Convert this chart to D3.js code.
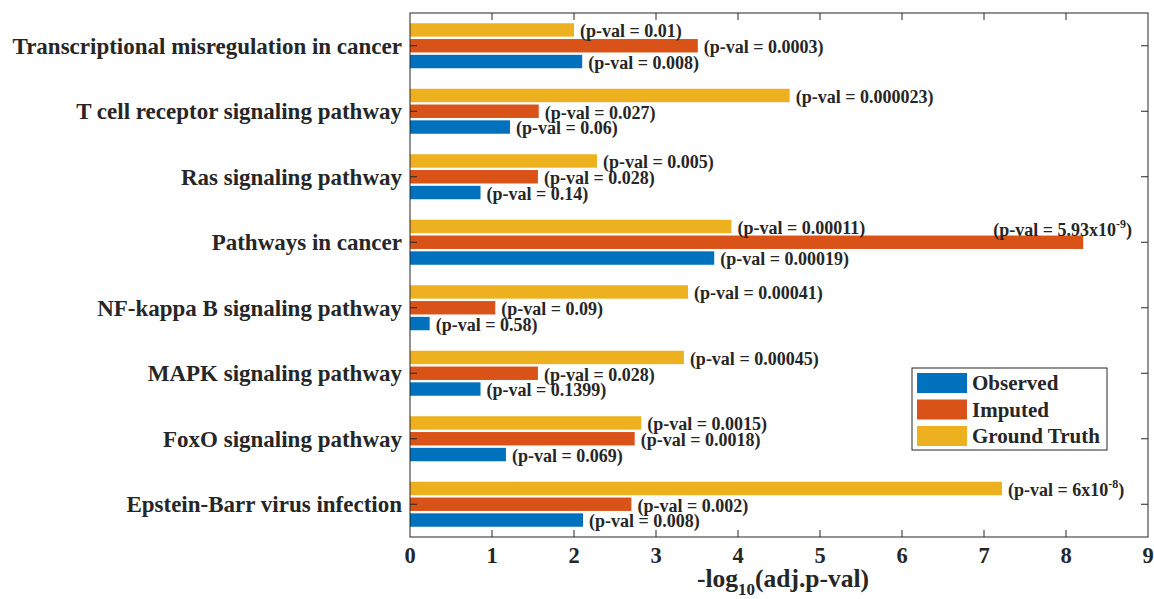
<!DOCTYPE html>
<html>
<head>
  <script src="https://cdn.jsdelivr.net/npm/d3@7"></script>
  <style>
    body { margin: 0; background: #fff; }
    text { font-family: "Liberation Serif", "Times New Roman", serif; font-weight: bold; fill: #262626; }
  </style>
</head>
<body>
  <svg width="1154" height="599" id="chart"></svg>
  <script>
    // pathways, top to bottom
    const categories = [
      'Transcriptional misregulation in cancer',
      'T cell receptor signaling pathway',
      'Ras signaling pathway',
      'Pathways in cancer',
      'NF-kappa B signaling pathway',
      'MAPK signaling pathway',
      'FoxO signaling pathway',
      'Epstein-Barr virus infection'
    ];
    const seriesNames = ['Ground Truth', 'Imputed', 'Observed'];
    const groundTruth = [2.0, 4.63, 2.28, 3.92, 3.39, 3.34, 2.82, 7.22];
    const imputed = [3.51, 1.57, 1.56, 8.21, 1.04, 1.56, 2.74, 2.70];
    const observed = [2.10, 1.22, 0.86, 3.71, 0.24, 0.86, 1.17, 2.11];
    const pGround = ['0.01', '0.000023', '0.005', '0.00011', '0.00041', '0.00045', '0.0015', '6x10^-8'];
    const pImputed = ['0.0003', '0.027', '0.028', '5.93x10^-9', '0.09', '0.028', '0.0018', '0.002'];
    const pObserved = ['0.008', '0.06', '0.14', '0.00019', '0.58', '0.1399', '0.069', '0.008'];
    const xTicks = [0, 1, 2, 3, 4, 5, 6, 7, 8, 9];
    const colors = { 'Observed': '#0072BD', 'Imputed': '#D95319', 'Ground Truth': '#EDB120' };

    const svg = d3.select('#chart');
    const margin = { top: 13, right: 6, bottom: 62, left: 410 };
    const width = +svg.attr('width');
    const height = +svg.attr('height');
    const innerWidth = width - margin.left - margin.right;
    const innerHeight = height - margin.top - margin.bottom;
    const g = svg.append('g').attr('transform', `translate(${margin.left},${margin.top})`);

    const xScale = d3.scaleLinear().domain([0, 9]).range([0, innerWidth]);
    const yScale = d3.scaleBand().domain(categories).range([0, innerHeight]);
    const sub = d3.scaleBand().domain(seriesNames).range([-22.5, 22.5]).paddingInner(0.15);

    const values = { 'Ground Truth': groundTruth, 'Imputed': imputed, 'Observed': observed };
    const pvals = { 'Ground Truth': pGround, 'Imputed': pImputed, 'Observed': pObserved };

    const rows = [];
    categories.forEach((c, i) => {
      seriesNames.forEach(s => rows.push({ cat: c, series: s, value: values[s][i], p: pvals[s][i] }));
    });

    // bars
    g.selectAll('rect.bar')
      .data(rows)
      .join('rect')
      .attr('class', 'bar')
      .attr('x', xScale(0))
      .attr('y', d => yScale(d.cat) + yScale.bandwidth() / 2 + sub(d.series))
      .attr('width', d => xScale(d.value) - xScale(0))
      .attr('height', sub.bandwidth())
      .attr('fill', d => colors[d.series]);

    // axes box
    g.append('rect')
      .attr('width', innerWidth).attr('height', innerHeight)
      .attr('fill', 'none').attr('stroke', '#262626').attr('stroke-width', 1);

    const tickLen = 7;
    xTicks.forEach(t => {
      if (t === 0 || t === 9) return;
      g.append('line').attr('x1', xScale(t)).attr('x2', xScale(t))
        .attr('y1', innerHeight).attr('y2', innerHeight - tickLen).attr('stroke', '#262626');
      g.append('line').attr('x1', xScale(t)).attr('x2', xScale(t))
        .attr('y1', 0).attr('y2', tickLen).attr('stroke', '#262626');
    });
    g.selectAll('text.xtick')
      .data(xTicks)
      .join('text')
      .attr('class', 'xtick')
      .attr('x', d => xScale(d))
      .attr('y', innerHeight + 26)
      .attr('text-anchor', 'middle')
      .attr('font-size', 22.5)
      .text(d => d);

    categories.forEach(c => {
      const yc = yScale(c) + yScale.bandwidth() / 2;
      g.append('line').attr('x1', 0).attr('x2', tickLen).attr('y1', yc).attr('y2', yc).attr('stroke', '#262626');
      g.append('line').attr('x1', innerWidth).attr('x2', innerWidth - tickLen).attr('y1', yc).attr('y2', yc).attr('stroke', '#262626');
    });
    g.selectAll('text.ytick')
      .data(categories)
      .join('text')
      .attr('class', 'ytick')
      .attr('x', -8)
      .attr('y', d => yScale(d) + yScale.bandwidth() / 2)
      .attr('dy', '0.35em')
      .attr('text-anchor', 'end')
      .attr('font-size', 23)
      .text(d => d);

    // x label
    const xl = g.append('text')
      .attr('x', innerWidth / 2 + 4)
      .attr('y', innerHeight + 50)
      .attr('text-anchor', 'middle')
      .attr('font-size', 25.5);
    xl.append('tspan').text('-log');
    xl.append('tspan').attr('font-size', 17).attr('dy', 8).text('10');
    xl.append('tspan').attr('dy', -8).text('(adj.p-val)');

    // p-value labels
    function writeP(sel, p) {
      sel.append('tspan').text('(p-val = ');
      const parts = p.split('^');
      sel.append('tspan').text(parts[0]);
      if (parts.length > 1) {
        sel.append('tspan').attr('font-size', 12).attr('dy', -8).text(parts[1]);
        sel.append('tspan').attr('dy', 8).text(')');
      } else {
        sel.append('tspan').text(')');
      }
    }
    rows.forEach(d => {
      const yc = yScale(d.cat) + yScale.bandwidth() / 2 + sub(d.series) + sub.bandwidth() / 2;
      const t = g.append('text')
        .attr('x', xScale(d.value) + 6)
        .attr('y', yc + 1)
        .attr('dy', '0.35em')
        .attr('font-size', 18);
      writeP(t, d.p);
      const w = t.node().getComputedTextLength();
      // the one label that would run past the frame goes up and left, as in the original
      if (xScale(d.value) + 6 + w > innerWidth - 8) {
        t.attr('x', innerWidth - 16 - w).attr('y', yc - 13);
      }
    });

    // legend
    const legend = svg.append('g').attr('transform', 'translate(912,368)');
    legend.append('rect').attr('width', 195).attr('height', 82)
      .attr('fill', '#fff').attr('stroke', '#262626').attr('stroke-width', 1);
    ['Observed', 'Imputed', 'Ground Truth'].forEach((s, i) => {
      legend.append('rect').attr('x', 5).attr('y', 5 + i * 26.5).attr('width', 50).attr('height', 20)
        .attr('fill', colors[s]);
      legend.append('text').attr('x', 60).attr('y', 15 + i * 26.5).attr('dy', '0.35em')
        .attr('font-size', 21).text(s);
    });
  </script>
</body>
</html>
